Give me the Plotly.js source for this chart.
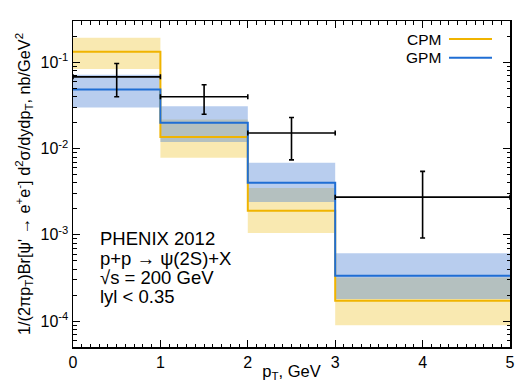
<!DOCTYPE html>
<html>
<head>
<meta charset="utf-8">
<script src="https://cdn.plot.ly/plotly-3.0.1.min.js"></script>
<style>html,body{margin:0;padding:0;background:#fff}#chart{width:516px;height:382px}</style>
</head>
<body>
<div id="chart"></div>
<script>
// bin edges in pT (GeV)
const edges = [0, 1, 2, 3, 5];
// PHENIX 2012 data
const dataX = [0.5, 1.5, 2.5, 4];
const dataXerr = [0.5, 0.5, 0.5, 1];
const dataY = [0.068, 0.040, 0.0152, 0.00274];
const dataHi = [0.097, 0.055, 0.023, 0.00545];
const dataLo = [0.040, 0.025, 0.0074, 0.00092];
// CPM prediction
const cpm = [0.133, 0.0136, 0.0019, 0.000172];
const cpmHi = [0.193, 0.0217, 0.00349, 0.000321];
const cpmLo = [0.0836, 0.00785, 0.00105, 0.0000898];
// GPM prediction
const gpm = [0.0485, 0.0199, 0.00402, 0.000336];
const gpmHi = [0.0718, 0.031, 0.00687, 0.000611];
const gpmLo = [0.030, 0.0119, 0.0024, 0.00018];
// tick labels
const yTickVals = [1e-4, 1e-3, 1e-2, 1e-1];
const yTickText = ['10<sup>-4</sup>', '10<sup>-3</sup>', '10<sup>-2</sup>', '10<sup>-1</sup>'];
const xTickVals = [0, 1, 2, 3, 4, 5];

const step = v => v.concat([v[v.length - 1]]);
const minorY = [];
[1e-5, 1e-4, 1e-3, 1e-2, 1e-1].forEach(d => { for (let k = 2; k <= 9; k++) minorY.push(k * d); });

const yellowLine = '#f0b400';
const yellowFill = 'rgba(240,200,60,0.4)';
const blueLine = '#1f6ed4';
const blueFill = 'rgba(78,130,212,0.4)';

const traces = [
  {x: edges, y: step(cpmLo), mode: 'lines', line: {shape: 'hv', width: 0}, hoverinfo: 'skip', showlegend: false},
  {x: edges, y: step(cpmHi), mode: 'lines', line: {shape: 'hv', width: 0}, fill: 'tonexty', fillcolor: yellowFill, hoverinfo: 'skip', showlegend: false},
  {x: edges, y: step(gpmLo), mode: 'lines', line: {shape: 'hv', width: 0}, hoverinfo: 'skip', showlegend: false},
  {x: edges, y: step(gpmHi), mode: 'lines', line: {shape: 'hv', width: 0}, fill: 'tonexty', fillcolor: blueFill, hoverinfo: 'skip', showlegend: false},
  {x: edges, y: step(cpm), mode: 'lines', line: {shape: 'hv', width: 2, color: yellowLine}, name: 'CPM', showlegend: false},
  {x: edges, y: step(gpm), mode: 'lines', line: {shape: 'hv', width: 2, color: blueLine}, name: 'GPM', showlegend: false},
  {x: dataX, y: dataY, mode: 'markers', marker: {size: 1, color: 'black'}, showlegend: false,
   error_x: {type: 'data', array: dataXerr, color: 'black', thickness: 1.6, width: 2.5},
   error_y: {type: 'data', symmetric: false,
     array: dataHi.map((h, i) => h - dataY[i]),
     arrayminus: dataLo.map((l, i) => dataY[i] - l),
     color: 'black', thickness: 1.6, width: 2.5}}
];

const font = 'Liberation Sans, Arial, sans-serif';
const textLines = ['PHENIX 2012', 'p+p → ψ(2S)+X', '√s = 200 GeV', 'lyl < 0.35'];
const textY = [0.333, 0.273, 0.213, 0.1535];
const annotations = textLines.map((t, i) => ({
  text: t, xref: 'paper', yref: 'paper', x: 0.058, y: textY[i], xanchor: 'left', yanchor: 'middle',
  showarrow: false, font: {family: font, size: 18.5, color: 'black'}
}));
annotations.push({text: 'CPM', xref: 'paper', yref: 'paper', x: 0.846, y: 0.9447, xanchor: 'right', yanchor: 'middle', showarrow: false, font: {family: font, size: 15.5, color: 'black'}});
annotations.push({text: 'GPM', xref: 'paper', yref: 'paper', x: 0.846, y: 0.8873, xanchor: 'right', yanchor: 'middle', showarrow: false, font: {family: font, size: 15.5, color: 'black'}});

const shapes = [
  {type: 'line', xref: 'paper', yref: 'paper', x0: 0.8604, x1: 0.9588, y0: 0.9447, y1: 0.9447, line: {color: yellowLine, width: 2}},
  {type: 'line', xref: 'paper', yref: 'paper', x0: 0.8604, x1: 0.9588, y0: 0.8873, y1: 0.8873, line: {color: blueLine, width: 2}}
];

const layout = {
  width: 516, height: 382,
  margin: {l: 73, r: 6, t: 21, b: 35},
  paper_bgcolor: 'white', plot_bgcolor: 'white',
  font: {family: font, size: 16, color: 'black'},
  showlegend: false,
  xaxis: {
    range: [0, 5], tickvals: xTickVals, ticks: 'inside', ticklen: 7, tickwidth: 1.2, tickcolor: 'black',
    showline: true, linecolor: 'black', linewidth: 1.5, mirror: 'allticks', showgrid: false, zeroline: false,
    minor: {dtick: 0.1, ticks: 'inside', ticklen: 3.5, tickwidth: 1, tickcolor: 'black', showgrid: false},
    tickfont: {size: 16},
    title: {text: 'p<sub>T</sub>, GeV', font: {size: 16.5}, standoff: 0}
  },
  yaxis: {
    type: 'log', range: [-4.30, -0.52], tickvals: yTickVals, ticktext: yTickText,
    ticks: 'inside', ticklen: 7, tickwidth: 1.2, tickcolor: 'black',
    showline: true, linecolor: 'black', linewidth: 1.5, mirror: 'allticks', showgrid: false, zeroline: false,
    minor: {tickvals: minorY, ticks: 'inside', ticklen: 3.5, tickwidth: 1, tickcolor: 'black', showgrid: false},
    tickfont: {size: 16},
    title: {text: "1/(2πp<sub>T</sub>)Br[ψ' → e<sup>+</sup>e<sup>-</sup>] d<sup>2</sup>σ/dydp<sub>T</sub>, nb/GeV<sup>2</sup>", font: {size: 16.3}, standoff: 6}
  },
  annotations: annotations,
  shapes: shapes
};

Plotly.newPlot('chart', traces, layout, {displayModeBar: false, staticPlot: true});
</script>
</body>
</html>
